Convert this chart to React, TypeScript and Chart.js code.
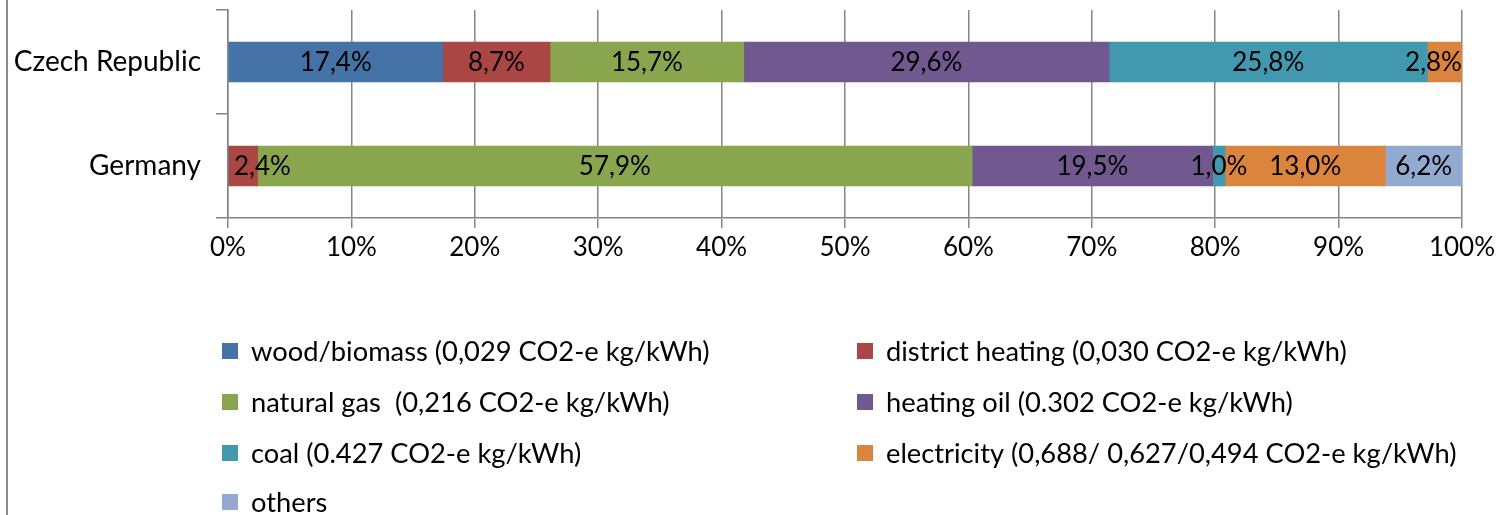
import React, { useEffect, useRef } from "react";
import { Chart, registerables } from "chart.js";

Chart.register(...registerables);

const categories = ["Czech Republic", "Germany"];
const seriesNames = [
  "wood/biomass (0,029 CO2-e kg/kWh)",
  "district heating (0,030 CO2-e kg/kWh)",
  "natural gas  (0,216 CO2-e kg/kWh)",
  "heating oil (0.302 CO2-e kg/kWh)",
  "coal (0.427 CO2-e kg/kWh)",
  "electricity (0,688/ 0,627/0,494 CO2-e kg/kWh)",
  "others",
];
const woodBiomass = [17.4, 0];
const districtHeating = [8.7, 2.4];
const naturalGas = [15.7, 57.9];
const heatingOil = [29.6, 19.5];
const coal = [25.8, 1.0];
const electricity = [2.8, 13.0];
const others = [0, 6.2];
const xTicks = [0, 10, 20, 30, 40, 50, 60, 70, 80, 90, 100];

const colors = ["#4572A7", "#AA4643", "#89A54E", "#71588F", "#4198AF", "#DB843D", "#93A9CF"];

const FONT = "Lato, 'Open Sans', sans-serif";
const FS = 26;
const FS_BIG = 28;
const FS_LEG = 27.3;
const GRID = "#868686";

const fmt = (v: number) => v.toFixed(1).replace(".", ",") + "%";

const frame = {
  id: "frame",
  afterDraw(chart: any) {
    const ctx = chart.ctx;
    ctx.save();
    ctx.strokeStyle = "#8c8c8c";
    ctx.lineWidth = 2;
    ctx.beginPath();
    ctx.moveTo(7, 0);
    ctx.lineTo(7, chart.height);
    ctx.stroke();
    ctx.restore();
  },
};

const dataLabels = {
  id: "dataLabels",
  afterDatasetsDraw(chart: any) {
    const ctx = chart.ctx;
    const area = chart.chartArea;
    ctx.save();
    ctx.font = `${FS}px ${FONT}`;
    ctx.fillStyle = "#000";
    ctx.textBaseline = "middle";
    ctx.textAlign = "left";
    chart.data.datasets.forEach((ds: any, di: number) => {
      const meta = chart.getDatasetMeta(di);
      meta.data.forEach((el: any, i: number) => {
        const v = ds.data[i];
        if (!v) return;
        const txt = fmt(v);
        const w = ctx.measureText(txt).width;
        const cx = (el.x + el.base) / 2;
        let left = cx - w / 2;
        if (left < area.left + 6) left = area.left + 6;
        if (left + w > area.right) left = area.right - w;
        ctx.fillText(txt, left, el.y + 1);
      });
    });
    ctx.restore();
  },
};

const legendPlugin = {
  id: "customLegend",
  afterDraw(chart: any) {
    const ctx = chart.ctx;
    const colX = [222, 857];
    const rowY = [352, 403, 454, 503];
    const box = 16;
    ctx.save();
    ctx.font = `${FS_LEG}px ${FONT}`;
    ctx.textBaseline = "middle";
    ctx.textAlign = "left";
    chart.data.datasets.forEach((ds: any, i: number) => {
      const x = colX[i % 2];
      const y = rowY[Math.floor(i / 2)];
      ctx.fillStyle = ds.backgroundColor;
      ctx.fillRect(x, y - box / 2 - 1, box, box);
      ctx.fillStyle = "#000";
      ctx.fillText(ds.label, x + 29, y);
    });
    ctx.restore();
  },
};

export default function App() {
  const ref = useRef<HTMLCanvasElement | null>(null);
  useEffect(() => {
    document.body.style.margin = "0";
    const seriesData = [woodBiomass, districtHeating, naturalGas, heatingOil, coal, electricity, others];
    const chart = new Chart(ref.current as HTMLCanvasElement, {
      type: "bar",
      data: {
        labels: categories,
        datasets: seriesNames.map((name, i) => ({
          label: name,
          data: seriesData[i],
          backgroundColor: colors[i],
          borderWidth: 0,
          barThickness: 40,
        })),
      },
      options: {
        indexAxis: "y",
        animation: false,
        responsive: false,
        maintainAspectRatio: false,
        layout: { padding: { top: 10, right: 35, bottom: 0, left: 0 } },
        plugins: { legend: { display: false }, tooltip: { enabled: false } },
        scales: {
          x: {
            stacked: true,
            min: 0,
            max: 100,
            afterBuildTicks(scale: any) {
              scale.ticks = xTicks.map((v) => ({ value: v }));
            },
            afterFit(scale: any) {
              scale.height = 297;
            },
            ticks: {
              callback: (v: any) => v + "%",
              color: "#000",
              font: { family: FONT, size: FS },
              padding: 4,
              maxRotation: 0,
              autoSkip: false,
            },
            grid: { color: GRID, lineWidth: 1.5, tickLength: 10 },
            border: { color: GRID, width: 1.5 },
          },
          y: {
            stacked: true,
            afterFit(scale: any) {
              scale.width = 228;
              scale.paddingTop = 0;
              scale.paddingBottom = 0;
            },
            ticks: {
              color: "#000",
              font: { family: FONT, size: FS_BIG },
              padding: 15,
            },
            grid: { offset: true, drawOnChartArea: false, color: GRID, lineWidth: 1.5, tickLength: 12 },
            border: { color: GRID, width: 1.5 },
          },
        },
      },
      plugins: [frame, dataLabels, legendPlugin],
    });
    return () => chart.destroy();
  }, []);
  return (
    <div style={{ width: 1499, height: 515, background: "#fff" }}>
      <canvas ref={ref} width={1499} height={515} style={{ display: "block" }} />
    </div>
  );
}
